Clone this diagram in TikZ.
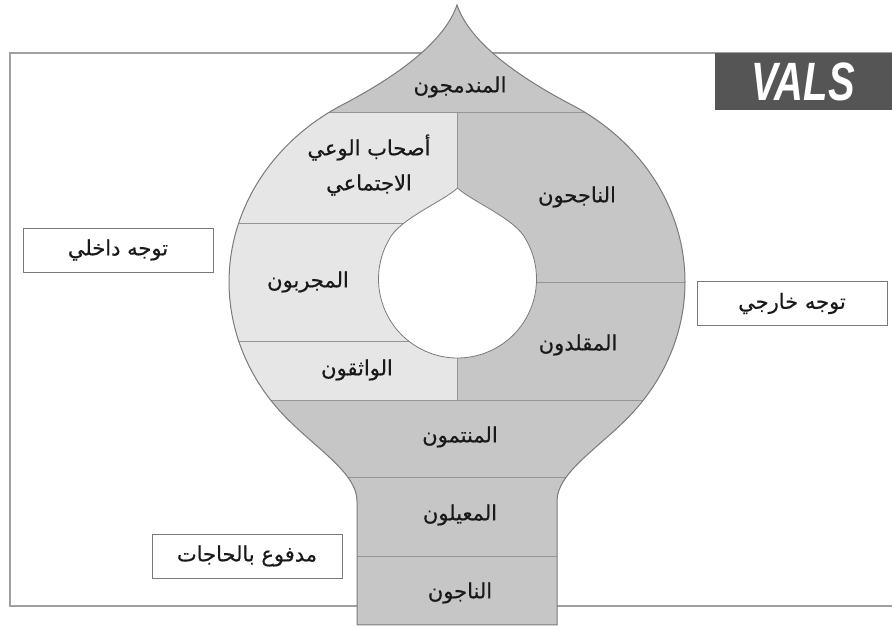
\documentclass[tikz,border=0pt]{standalone}
\usepackage{fontspec}
\usepackage{tikz}
\newfontfamily\arabicfont[Script=Arabic,FakeBold=0.5]{DejaVu Sans}
\newfontfamily\valsfont{Liberation Sans}
\TeXXeTstate=1

\definecolor{lightcell}{HTML}{E6E6E6}
\definecolor{darkcell}{HTML}{C6C6C6}
\definecolor{edgegray}{HTML}{7A7A7A}
\definecolor{framegray}{HTML}{A0A0A0}
\definecolor{valsgray}{HTML}{555555}

\newcommand{\artext}[1]{{\arabicfont\beginR #1\endR}}

% outline of the bulb and of the hole in it
\def\bulbpath{(457,624) .. controls (469,589) and (512,555.5) .. (571,524.5)
  arc[start angle=60,end angle=-42,x radius=228,y radius=205]
  .. controls (595,178.5) and (557,155) .. (557,128) -- (557,4) -- (357,4) -- (357,128)
  .. controls (357,155) and (319,178.5) .. (287.6,209.8)
  arc[start angle=222,end angle=120,x radius=228,y radius=205]
  .. controls (402,555.5) and (445,589) .. (457,624) -- cycle}
\def\holepath{(457.5,441) .. controls (444,428) and (399,410) .. (389.1,389.5)
  arc[start angle=150,end angle=390,radius=79]
  .. controls (516,410) and (471,428) .. (457.5,441) -- cycle}

\tikzset{
  cellline/.style={draw=edgegray!80,line width=0.8},
  label/.style={font=\fontsize{21}{35}\selectfont,text=black!90},
  sidebox/.style={draw=edgegray,line width=0.8,minimum width=190,minimum height=44,font=\fontsize{21}{24}\selectfont,text=black!90}
}

\begin{document}
\begin{tikzpicture}[x=1pt,y=1pt]
\useasboundingbox (0,0) rectangle (892,629);
\draw[framegray,line width=1.5] (900,576) -- (10,576) -- (10,23) -- (900,23);

\fill[darkcell] \bulbpath;
\begin{scope}
\clip \bulbpath;
\fill[lightcell] (200,229) rectangle (457.5,517);
\draw[cellline] (200,517) -- (720,517);
\draw[cellline] (200,406) -- (457.5,406);
\draw[cellline] (200,288) -- (457.5,288);
\draw[cellline] (457.5,347) -- (720,347);
\draw[cellline] (200,229) -- (720,229);
\draw[cellline] (200,152) -- (720,152);
\draw[cellline] (200,73) -- (720,73);
\end{scope}
\filldraw[fill=white,draw=edgegray,line width=0.8] \holepath;
\draw[cellline] (457.5,517) -- (457.5,441);
\draw[cellline] (457.5,271) -- (457.5,229);
\draw[edgegray,line width=1] \bulbpath;

\node[label] (integrated) at (460,542) {\artext{المندمجون}};
\node[label,align=center] (socially) at (369,464) {\artext{أصحاب الوعي}\\\artext{الاجتماعي}};
\node[label] (achievers) at (577,432) {\artext{الناجحون}};
\node[label] (experiential) at (308,347) {\artext{المجربون}};
\node[label] (confident) at (357,259) {\artext{الواثقون}};
\node[label] (emulators) at (578,284) {\artext{المقلدون}};
\node[label] (belongers) at (460,192) {\artext{المنتمون}};
\node[label] (sustainers) at (460,114) {\artext{المعيلون}};
\node[label] (survivors) at (460,36) {\artext{الناجون}};

\node[sidebox,fill=white] (inner) at (118,379) {\artext{توجه داخلي}};
\node[sidebox,fill=white] (outer) at (792,325.5) {\artext{توجه خارجي}};
\node[sidebox,fill=white] (needs) at (247,73) {\artext{مدفوع بالحاجات}};

\fill[valsgray] (715,576) rectangle (892,519);
\node[text=white,font=\valsfont\bfseries\itshape\fontsize{54}{54}\selectfont,xscale=0.74] (vals) at (803,547.5) {VALS};
\end{tikzpicture}
\end{document}
